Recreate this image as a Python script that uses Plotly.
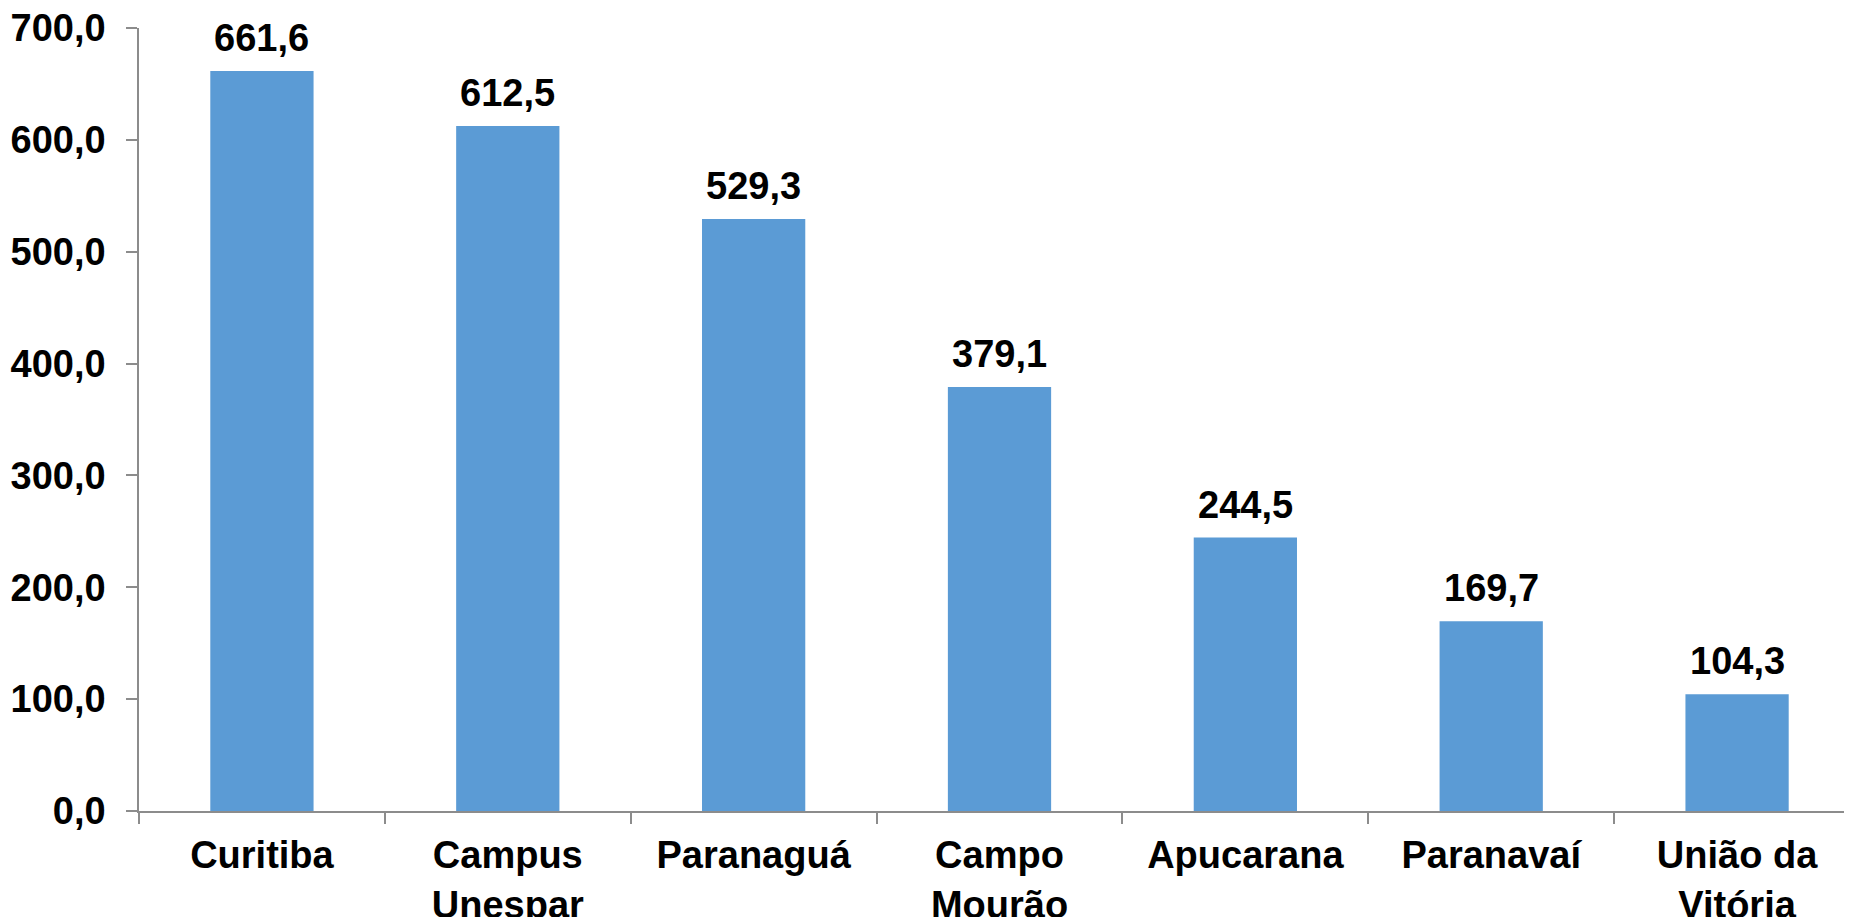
import plotly.graph_objects as go

categories = ["Curitiba", "Campus<br>Unespar", "Paranaguá", "Campo<br>Mourão",
              "Apucarana", "Paranavaí", "União da<br>Vitória"]
values = [661.6, 612.5, 529.3, 379.1, 244.5, 169.7, 104.3]
y_ticks = [0, 100, 200, 300, 400, 500, 600, 700]

FONT = "Liberation Sans, Arial, sans-serif"
FSIZE = 38
AXIS_COLOR = "#8c8c8c"

fig = go.Figure(
    go.Bar(
        x=categories,
        y=values,
        marker=dict(color="#5B9BD5", line=dict(width=0)),
        width=0.42,
        hoverinfo="x+y",
    )
)

for c, v in zip(categories, values):
    fig.add_annotation(
        x=c, y=v, xref="x", yref="y",
        text=f"{v:.1f}".replace(".", ","),
        showarrow=False, yanchor="bottom", yshift=10,
        font=dict(family=FONT, size=FSIZE, color="black", weight="bold"),
    )

fig.update_layout(
    width=1852,
    height=917,
    margin=dict(l=131, r=0, t=20, b=114, autoexpand=False),
    plot_bgcolor="white",
    paper_bgcolor="white",
    separators=",.",
    showlegend=False,
)

fig.update_xaxes(
    type="category",
    tickson="boundaries",
    ticks="outside",
    ticklen=11,
    tickcolor=AXIS_COLOR,
    tickwidth=1.5,
    showline=True,
    linecolor=AXIS_COLOR,
    linewidth=1.5,
    showgrid=False,
    automargin=False,
    ticklabeloverflow="allow",
    tickfont=dict(family=FONT, size=FSIZE, color="black", weight="bold"),
    ticklabelstandoff=10,
)

fig.update_yaxes(
    range=[0, 700],
    tickvals=y_ticks,
    tickformat=".1f",
    ticks="outside",
    ticklen=11,
    tickcolor=AXIS_COLOR,
    tickwidth=1.5,
    showline=True,
    linecolor=AXIS_COLOR,
    linewidth=1.5,
    showgrid=False,
    zeroline=False,
    automargin=False,
    ticklabeloverflow="allow",
    tickfont=dict(family=FONT, size=FSIZE, color="black", weight="bold"),
    ticklabelstandoff=13,
)

fig.write_html("out.html")
